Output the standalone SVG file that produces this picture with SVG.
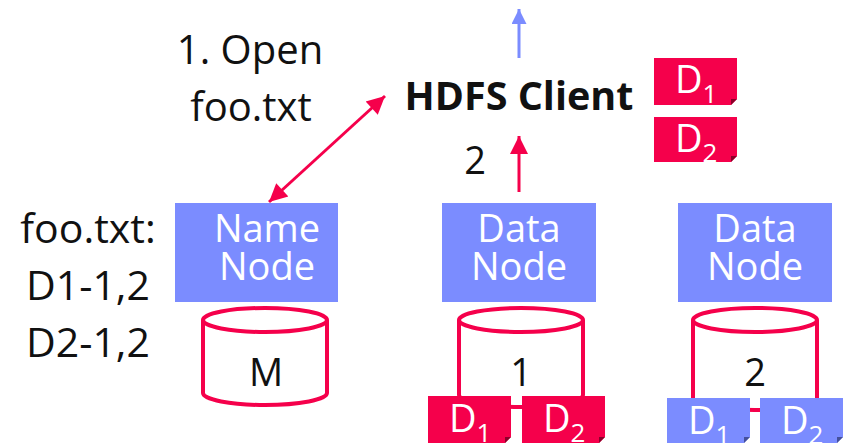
<svg xmlns="http://www.w3.org/2000/svg" width="848" height="443" viewBox="0 0 848 443">
  <style>
    .txt { font-family: "Open Sans", "Liberation Sans", sans-serif; fill: #111; }
    .node { fill: #7B8CFF; }
    .nodelbl { font-family: "Open Sans", "Liberation Sans", sans-serif; font-size: 38px; fill: #fff; text-anchor: middle; }
    .disk { fill: #fff; stroke: #F5004B; stroke-width: 4; }
    .disklbl { font-family: "Open Sans", "Liberation Sans", sans-serif; font-size: 38px; fill: #111; text-anchor: middle; }
    .blk { font-family: "Open Sans", "Liberation Sans", sans-serif; fill: #fff; }
    .red { fill: #F5004B; }
    .blue { fill: #7B8CFF; }
    .fold { fill: #8a0029; }
    .foldb { fill: #45509a; }
    .conn { stroke-width: 3; fill: none; }
  </style>
  <defs>
    <marker id="headRed" viewBox="0 0 10 10" refX="10" refY="5" markerWidth="8" markerHeight="6" markerUnits="strokeWidth" orient="auto-start-reverse">
      <path d="M0,0 L10,5 L0,10 Z" fill="#F5004B"/>
    </marker>
    <marker id="headBlue" viewBox="0 0 10 10" refX="10" refY="5" markerWidth="6" markerHeight="5" markerUnits="strokeWidth" orient="auto">
      <path d="M0,0 L10,5 L0,10 Z" fill="#7B8CFF"/>
    </marker>
  </defs>

  <rect width="848" height="443" fill="#fff"/>

  <!-- labels -->
  <g id="open-label" class="txt" font-size="40" text-anchor="middle">
    <text x="250" y="64">1. Open</text>
    <text x="251" y="121">foo.txt</text>
  </g>
  <g id="meta-label" class="txt" font-size="41" text-anchor="middle">
    <text x="88" y="243">foo.txt:</text>
    <text x="88" y="300">D1-1,2</text>
    <text x="88" y="357">D2-1,2</text>
  </g>
  <g id="step2-label" class="txt" font-size="38" text-anchor="middle">
    <text x="475" y="174">2</text>
  </g>

  <!-- client -->
  <g id="hdfs-client">
    <text class="txt" x="519" y="110" font-size="39.5" font-weight="bold" text-anchor="middle">HDFS Client</text>
  </g>

  <!-- blocks held by the client -->
  <g id="client-block-d1">
    <path class="red" d="M654,58 H737 V99 L731,105 H654 Z"/>
    <path class="fold" d="M737,99 L731,105 L731,99 Z"/>
    <text class="blk" x="675" y="93" font-size="38">D<tspan font-size="26" dy="10">1</tspan></text>
  </g>
  <g id="client-block-d2">
    <path class="red" d="M654,117 H737 V156 L731,162 H654 Z"/>
    <path class="fold" d="M737,156 L731,162 L731,156 Z"/>
    <text class="blk" x="675" y="152" font-size="38">D<tspan font-size="26" dy="10">2</tspan></text>
  </g>

  <!-- name node -->
  <g id="name-node">
    <rect class="node" x="175" y="203" width="163" height="99"/>
    <text class="nodelbl" x="267" y="242">Name</text>
    <text class="nodelbl" x="267" y="280">Node</text>
  </g>
  <g id="name-disk">
    <path class="disk" d="M203,320 V393 A62,12 0 0 0 327,393 V320"/>
    <ellipse class="disk" cx="265" cy="320" rx="62" ry="12"/>
    <text class="disklbl" x="266" y="386">M</text>
  </g>

  <!-- data node 1 -->
  <g id="data-node-1">
    <rect class="node" x="442" y="203" width="154" height="99"/>
    <text class="nodelbl" x="519" y="242">Data</text>
    <text class="nodelbl" x="519" y="280">Node</text>
  </g>
  <g id="data-disk-1">
    <path class="disk" d="M459,320 V395 A62,12 0 0 0 583,395 V320"/>
    <ellipse class="disk" cx="521" cy="320" rx="62" ry="12"/>
    <text class="disklbl" x="521" y="386">1</text>
  </g>
  <g id="disk1-block-d1">
    <path class="red" d="M428,396 H511 V437 L505,443 H428 Z"/>
    <path class="fold" d="M511,437 L505,443 L505,437 Z"/>
    <text class="blk" x="449" y="432" font-size="38">D<tspan font-size="26" dy="10">1</tspan></text>
  </g>
  <g id="disk1-block-d2">
    <path class="red" d="M522,396 H605 V437 L599,443 H522 Z"/>
    <path class="fold" d="M605,437 L599,443 L599,437 Z"/>
    <text class="blk" x="543" y="432" font-size="38">D<tspan font-size="26" dy="10">2</tspan></text>
  </g>

  <!-- data node 2 -->
  <g id="data-node-2">
    <rect class="node" x="678" y="203" width="154" height="99"/>
    <text class="nodelbl" x="755" y="242">Data</text>
    <text class="nodelbl" x="755" y="280">Node</text>
  </g>
  <g id="data-disk-2">
    <path class="disk" d="M693,320 V398 A62,12 0 0 0 817,398 V320"/>
    <ellipse class="disk" cx="755" cy="320" rx="62" ry="12"/>
    <text class="disklbl" x="755" y="386">2</text>
  </g>
  <g id="disk2-block-d1">
    <path class="blue" d="M667,398 H750 V437 L744,443 H667 Z"/>
    <path class="foldb" d="M750,437 L744,443 L744,437 Z"/>
    <text class="blk" x="688" y="434" font-size="38">D<tspan font-size="26" dy="10">1</tspan></text>
  </g>
  <g id="disk2-block-d2">
    <path class="blue" d="M760,398 H843 V437 L837,443 H760 Z"/>
    <path class="foldb" d="M843,437 L837,443 L837,437 Z"/>
    <text class="blk" x="781" y="434" font-size="38">D<tspan font-size="26" dy="10">2</tspan></text>
  </g>

  <!-- connectors -->
  <g id="connectors">
    <line class="conn" x1="269" y1="202" x2="385" y2="96" stroke="#F5004B" marker-start="url(#headRed)" marker-end="url(#headRed)"/>
    <line class="conn" x1="519" y1="192" x2="519" y2="136" stroke="#F5004B" marker-end="url(#headRed)"/>
    <line class="conn" x1="519" y1="58" x2="519" y2="9" stroke="#7B8CFF" marker-end="url(#headBlue)"/>
  </g>
</svg>
